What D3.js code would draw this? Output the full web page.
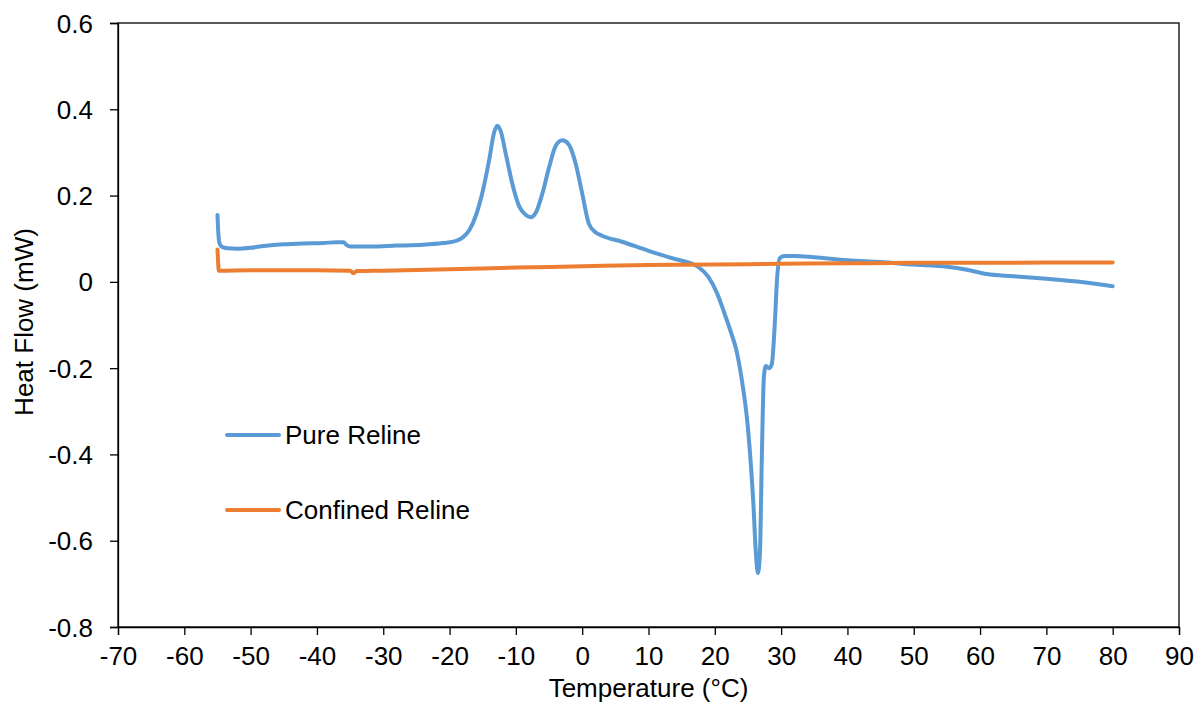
<!DOCTYPE html>
<html>
<head>
<meta charset="utf-8">
<script src="https://cdn.jsdelivr.net/npm/d3@7"></script>
<style>
  html, body { margin: 0; padding: 0; background: #fff; }
  svg { display: block; font-family: "Liberation Sans", Arial, sans-serif; }
</style>
</head>
<body>
<svg id="chart" width="1198" height="711"></svg>
<script>
// DSC heat-flow traces
const pureTemp = [-55.0, -54.9, -54.7, -54.3, -53.5, -52, -50, -48, -45, -42, -39, -37, -36, -35.5, -35, -32, -28, -24, -21, -19, -18, -17, -16, -15, -14, -13.3, -12.8, -12.3, -11.5, -10.5, -9.5, -8.5, -7.7, -7, -6, -5, -4, -3, -2, -1, 0, 1, 2, 3, 6, 10, 14, 16, 17.5, 19, 20.3, 21.5, 22.5, 23.2, 24, 25, 25.8, 26.2, 26.5, 26.8, 27.1, 27.4, 27.7, 28.2, 28.6, 29, 29.4, 29.8, 30.5, 32, 35, 40, 45, 50, 55, 58, 61, 65, 70, 75, 80];
const pureFlow = [0.155, 0.120, 0.090, 0.081, 0.078, 0.077, 0.079, 0.083, 0.087, 0.089, 0.090, 0.092, 0.092, 0.085, 0.082, 0.082, 0.084, 0.086, 0.090, 0.095, 0.103, 0.120, 0.155, 0.210, 0.285, 0.345, 0.362, 0.350, 0.295, 0.225, 0.175, 0.155, 0.150, 0.160, 0.205, 0.265, 0.315, 0.328, 0.318, 0.275, 0.205, 0.135, 0.115, 0.107, 0.093, 0.072, 0.053, 0.045, 0.035, 0.012, -0.025, -0.075, -0.120, -0.155, -0.220, -0.340, -0.510, -0.630, -0.675, -0.630, -0.400, -0.220, -0.195, -0.200, -0.190, -0.110, 0.010, 0.055, 0.060, 0.060, 0.057, 0.050, 0.046, 0.040, 0.035, 0.028, 0.018, 0.013, 0.007, 0.000, -0.010];

const confinedTemp = [-55.0, -54.9, -54.8, -50, -45, -40, -35, -34.5, -34, -30, -20, -10, 0, 10, 20, 30, 40, 50, 60, 70, 80];
const confinedFlow = [0.075, 0.045, 0.026, 0.027, 0.027, 0.027, 0.026, 0.020, 0.025, 0.026, 0.029, 0.033, 0.036, 0.039, 0.040, 0.042, 0.043, 0.044, 0.044, 0.045, 0.045];

const xTicks = [-70, -60, -50, -40, -30, -20, -10, 0, 10, 20, 30, 40, 50, 60, 70, 80, 90];
const yTicks = [0.6, 0.4, 0.2, 0, -0.2, -0.4, -0.6, -0.8];

const seriesNames = ["Pure Reline", "Confined Reline"];
const seriesColors = ["#5B9BD5", "#ED7D31"];

const svg = d3.select("#chart");
const plot = { left: 118, right: 1179, top: 23, bottom: 627 };
const fontSize = "26px";

const x = d3.scaleLinear().domain([-70, 90]).range([plot.left, plot.right]);
const y = d3.scaleLinear().domain([-0.8, 0.6]).range([plot.bottom, plot.top]);

// plain hyphen for negative numbers
const fmtX = d => String(d);
const fmtY = d => d === 0 ? "0" : d.toFixed(1);

// plot frame
svg.append("rect")
  .attr("x", plot.left).attr("y", plot.top)
  .attr("width", plot.right - plot.left).attr("height", plot.bottom - plot.top)
  .attr("fill", "none").attr("stroke", "#000").attr("stroke-width", 1.3);

// axes
const xAxis = svg.append("g")
  .attr("transform", `translate(0,${plot.bottom})`)
  .call(d3.axisBottom(x).tickValues(xTicks).tickSize(8).tickFormat(fmtX));
const yAxis = svg.append("g")
  .attr("transform", `translate(${plot.left},0)`)
  .call(d3.axisLeft(y).tickValues(yTicks).tickSize(8).tickPadding(17).tickFormat(fmtY));

[xAxis, yAxis].forEach(g => {
  g.select(".domain").attr("stroke", "#000").attr("stroke-width", 1.3);
  g.selectAll(".tick line").attr("stroke", "#000").attr("stroke-width", 1.3);
  g.selectAll(".tick text").attr("fill", "#000")
    .style("font-size", fontSize).style("font-family", '"Liberation Sans", Arial, sans-serif');
});
xAxis.selectAll(".tick text").attr("y", 38).attr("dy", 0);
yAxis.selectAll(".tick text").attr("dy", "0.35em");

// axis titles
svg.append("text")
  .attr("x", (plot.left + plot.right) / 2).attr("y", 697)
  .attr("text-anchor", "middle").style("font-size", fontSize)
  .text("Temperature (°C)");
svg.append("text")
  .attr("transform", `translate(33,${(plot.top + plot.bottom) / 2 - 3}) rotate(-90)`)
  .attr("text-anchor", "middle").style("font-size", fontSize)
  .text("Heat Flow (mW)");

// curves
const line = d3.line()
  .x(d => x(d[0]))
  .y(d => y(d[1]))
  .curve(d3.curveMonotoneX);

const pure = pureTemp.map((t, i) => [t, pureFlow[i]]);
const confined = confinedTemp.map((t, i) => [t, confinedFlow[i]]);

svg.append("path").datum(pure)
  .attr("d", line).attr("fill", "none")
  .attr("stroke", seriesColors[0]).attr("stroke-width", 4)
  .attr("stroke-linejoin", "round").attr("stroke-linecap", "round");
svg.append("path").datum(confined)
  .attr("d", line).attr("fill", "none")
  .attr("stroke", seriesColors[1]).attr("stroke-width", 4)
  .attr("stroke-linejoin", "round").attr("stroke-linecap", "round");

// legend
const legend = svg.append("g");
seriesNames.forEach((name, i) => {
  const ly = 435 + i * 75;
  legend.append("line")
    .attr("x1", 227).attr("x2", 279).attr("y1", ly).attr("y2", ly)
    .attr("stroke", seriesColors[i]).attr("stroke-width", 4).attr("stroke-linecap", "round");
  legend.append("text")
    .attr("x", 285).attr("y", ly).attr("dy", "0.35em")
    .style("font-size", fontSize).text(name);
});
</script>
</body>
</html>
